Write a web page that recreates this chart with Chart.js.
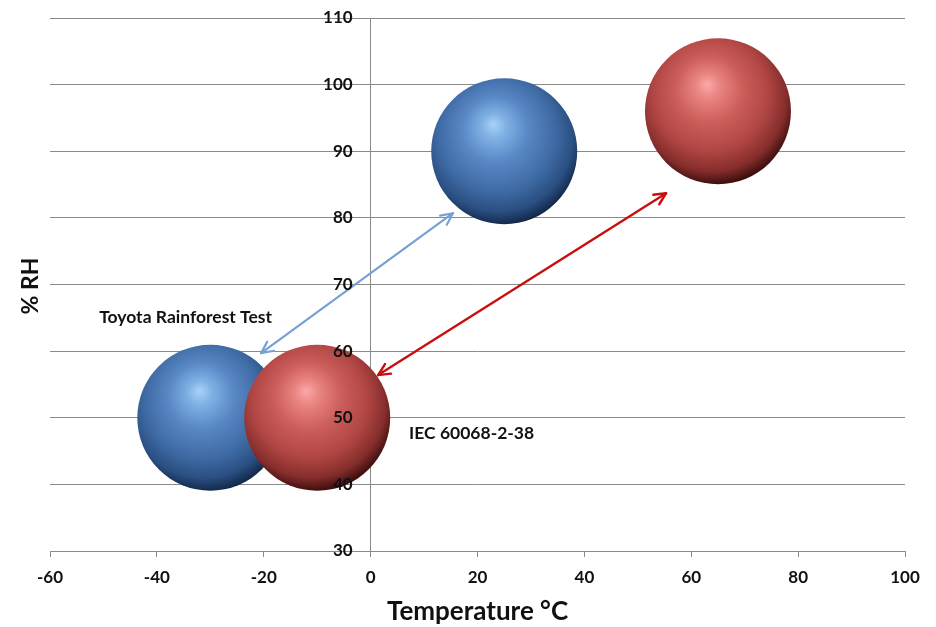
<!DOCTYPE html>
<html>
<head>
<meta charset="utf-8">
<script src="https://cdn.jsdelivr.net/npm/chart.js@4.4.1/dist/chart.umd.min.js"></script>
<style>
  html, body { margin: 0; padding: 0; background: #ffffff; }
  #wrap { width: 936px; height: 627px; position: relative; }
</style>
</head>
<body>
<div id="wrap"><canvas id="chart" width="936" height="627"></canvas></div>
<script>
// Test conditions: temperature (°C) against relative humidity (%RH)
const toyotaTemps = [-30, 25];
const toyotaRH = [50, 90];
const iecTemps = [-10, 65];
const iecRH = [50, 96];

// Double-headed arrows linking the two ends of each test cycle: [x1, y1, x2, y2]
const toyotaArrow = [-20.5, 59.7, 15.4, 80.7];
const iecArrow = [1.4, 56.4, 55.3, 83.7];

// Test labels: [text, x, y]
const toyotaLabel = ['Toyota Rainforest Test', -50.8, 65.1];
const iecLabel = ['IEC 60068-2-38', 7.2, 47.6];

const xTicksMin = -60, xTicksMax = 100, xStep = 20;
const yTicksMin = 30, yTicksMax = 110, yStep = 10;
const xTitle = 'Temperature °C';
const yTitle = '% RH';

const FONT = 'Lato, "Open Sans", sans-serif';
const BUBBLE_R = 73;
const GRID = '#8a8a8a';
const Y_LABEL_GAP = 18;

const blueStops = [[0, '#a9d2fa'], [0.14, '#80b1e4'], [0.38, '#5887c4'], [0.66, '#3f6ba5'], [0.86, '#2a4f82'], [1, '#112646']];
const redStops = [[0, '#fba9a7'], [0.14, '#ea8582'], [0.38, '#cc5e5b'], [0.66, '#b04644'], [0.86, '#842d2b'], [1, '#360b0b']];

function sphereFill(stops) {
  return function (ctx) {
    const chart = ctx.chart;
    if (ctx.type !== 'data' || !chart.chartArea || !ctx.raw) return stops[3][1];
    const cx = chart.scales.x.getPixelForValue(ctx.raw.x);
    const cy = chart.scales.y.getPixelForValue(ctx.raw.y);
    const r = BUBBLE_R;
    const g = chart.ctx.createRadialGradient(cx - 0.15 * r, cy - 0.37 * r, 0,
                                             cx - 0.08 * r, cy - 0.18 * r, r * 1.2);
    stops.forEach(s => g.addColorStop(s[0], s[1]));
    return g;
  };
}

function points(xs, ys) { return xs.map((x, i) => ({ x: x, y: ys[i] })); }

function drawArrow(c, x1, y1, x2, y2, color, width) {
  const head = 13, spread = Math.PI / 7;
  c.save();
  c.strokeStyle = color;
  c.lineWidth = width;
  c.lineCap = 'round';
  c.lineJoin = 'round';
  c.beginPath();
  c.moveTo(x1, y1);
  c.lineTo(x2, y2);
  c.stroke();
  const heads = [[x2, y2, Math.atan2(y2 - y1, x2 - x1)], [x1, y1, Math.atan2(y1 - y2, x1 - x2)]];
  heads.forEach(h => {
    c.beginPath();
    c.moveTo(h[0] - head * Math.cos(h[2] - spread), h[1] - head * Math.sin(h[2] - spread));
    c.lineTo(h[0], h[1]);
    c.lineTo(h[0] - head * Math.cos(h[2] + spread), h[1] - head * Math.sin(h[2] + spread));
    c.stroke();
  });
  c.restore();
}

// The value axis sits at x = 0; keep its labels a little clear of the axis line.
const yLabelOffset = {
  id: 'yLabelOffset',
  beforeDraw(chart) {
    const s = chart.scales.y;
    s.getLabelItems(chart.chartArea).forEach(it => {
      if (!it._shifted) {
        it.options.translation[0] -= Y_LABEL_GAP;
        it._shifted = true;
      }
    });
  }
};

const overlays = {
  id: 'overlays',
  afterDatasetsDraw(chart) {
    const c = chart.ctx;
    const xs = chart.scales.x, ys = chart.scales.y;
    const px = v => xs.getPixelForValue(v);
    const py = v => ys.getPixelForValue(v);
    drawArrow(c, px(toyotaArrow[0]), py(toyotaArrow[1]), px(toyotaArrow[2]), py(toyotaArrow[3]), '#76a1d6', 2.2);
    drawArrow(c, px(iecArrow[0]), py(iecArrow[1]), px(iecArrow[2]), py(iecArrow[3]), '#c80f0f', 2.4);

    c.save();
    c.fillStyle = '#111111';
    c.font = 'bold 17.5px ' + FONT;
    c.textAlign = 'left';
    c.textBaseline = 'middle';
    [toyotaLabel, iecLabel].forEach(l => c.fillText(l[0], px(l[1]), py(l[2])));
    c.restore();
  },
  afterDraw(chart) {
    const c = chart.ctx;
    c.save();
    c.fillStyle = '#111111';
    c.font = 'bold 23px ' + FONT;
    c.textAlign = 'center';
    c.textBaseline = 'middle';
    c.translate(31, 286);
    c.rotate(-Math.PI / 2);
    c.fillText(yTitle, 0, 0);
    c.restore();
  }
};

new Chart(document.getElementById('chart'), {
  type: 'bubble',
  data: {
    datasets: [
      {
        label: 'IEC 60068-2-38',
        data: points(iecTemps, iecRH),
        radius: BUBBLE_R,
        hoverRadius: 0,
        borderWidth: 0,
        backgroundColor: sphereFill(redStops)
      },
      {
        label: 'Toyota Rainforest Test',
        data: points(toyotaTemps, toyotaRH),
        radius: BUBBLE_R,
        hoverRadius: 0,
        borderWidth: 0,
        backgroundColor: sphereFill(blueStops)
      }
    ]
  },
  options: {
    responsive: false,
    animation: false,
    events: [],
    layout: { autoPadding: false, padding: { left: 50, right: 31, top: 18, bottom: 0 } },
    plugins: { legend: { display: false }, tooltip: { enabled: false } },
    scales: {
      x: {
        type: 'linear',
        position: 'bottom',
        min: xTicksMin,
        max: xTicksMax,
        afterBuildTicks: s => {
          s.ticks = [];
          for (let v = xTicksMin; v <= xTicksMax; v += xStep) s.ticks.push({ value: v });
        },
        afterFit: s => { s.height = 76; },
        grid: { drawOnChartArea: false, drawTicks: true, tickLength: 6, color: GRID, lineWidth: 1 },
        border: { display: true, color: GRID, width: 1 },
        ticks: {
          padding: 10,
          color: '#111111',
          font: { family: FONT, size: 17, weight: 'bold' },
          callback: v => String(v)
        },
        title: {
          display: true,
          text: xTitle,
          color: '#111111',
          font: { family: FONT, size: 26, weight: 'bold' },
          padding: { top: 0, bottom: 0 }
        }
      },
      y: {
        type: 'linear',
        position: { x: 0 },
        min: yTicksMin,
        max: yTicksMax,
        afterBuildTicks: s => {
          s.ticks = [];
          for (let v = yTicksMin; v <= yTicksMax; v += yStep) s.ticks.push({ value: v });
        },
        grid: { drawOnChartArea: true, drawTicks: false, color: GRID, lineWidth: 1 },
        border: { display: true, color: GRID, width: 1 },
        ticks: {
          z: 1,
          color: '#111111',
          font: { family: FONT, size: 17, weight: 'bold' },
          callback: v => String(v)
        }
      }
    }
  },
  plugins: [yLabelOffset, overlays]
});
</script>
</body>
</html>
